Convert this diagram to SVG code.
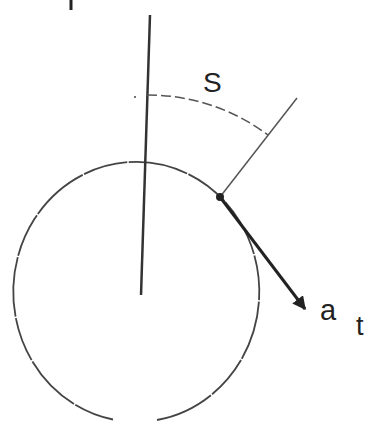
<svg xmlns="http://www.w3.org/2000/svg" width="372" height="427" viewBox="0 0 372 427">
<style>
.lbl{font-family:"Liberation Sans",Arial,sans-serif;fill:#222}
.thin{stroke:#555;stroke-width:1.5;fill:none}
</style>
<defs>
<marker id="ah" viewBox="0 0 10 10" refX="9" refY="5" markerWidth="4.5" markerHeight="4.5" orient="auto" markerUnits="strokeWidth">
<path d="M0,0 L10,5 L0,10 Z" fill="#222"/>
</marker>
</defs>
<rect width="372" height="427" fill="#fff"/>
<g id="mark"><line x1="71" y1="0" x2="71" y2="10" stroke="#222" stroke-width="3"/></g>
<g id="circle">
<path d="M157,420 A123,130 0 1 0 113,419.5" fill="none" stroke="#444" stroke-width="1.8" stroke-dasharray="60 1.5 45 1.5"/>
</g>
<g id="axis"><line x1="150" y1="15" x2="141" y2="295" stroke="#333" stroke-width="2.5"/></g>
<g id="connectors">
<line x1="220" y1="197" x2="297" y2="98" class="thin"/>
<path d="M147,95 A200,200 0 0 1 268,135" class="thin" stroke-dasharray="10 4"/>
<circle cx="135" cy="97" r="1" fill="#444"/>
<line x1="220" y1="197" x2="305" y2="309" stroke="#222" stroke-width="3" marker-end="url(#ah)"/>
</g>
<g id="point"><circle cx="220" cy="197" r="4" fill="#222"/></g>
<g id="labels">
<text class="lbl" x="320" y="320" font-size="29">a</text>
<text class="lbl" x="356" y="335" font-size="27">t</text>
<text class="lbl" x="203" y="92" font-size="28">S</text>
</g>
</svg>
